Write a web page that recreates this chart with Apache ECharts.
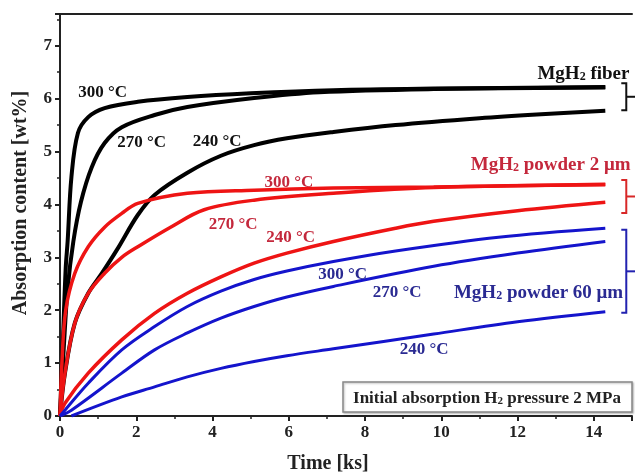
<!DOCTYPE html>
<html>
<head>
<meta charset="utf-8">
<script src="https://cdn.jsdelivr.net/npm/echarts@6/dist/echarts.min.js"></script>
<style>
html,body{margin:0;padding:0;background:#fff}
#chart{width:635px;height:475px}
</style>
</head>
<body>
<div id="chart"></div>
<script>
// time in ks, absorption in wt%
var fiber300T = [0, 0.08, 0.15, 0.2, 0.3, 0.47, 0.74, 1.17, 2.04, 3.34, 5, 7.17, 9.8, 14.3];
var fiber300V = [0, 1.5, 2.8, 3.3, 4.52, 5.35, 5.65, 5.82, 5.94, 6.03, 6.1, 6.16, 6.19, 6.22];
var fiber270T = [0, 0.1, 0.2, 0.35, 0.55, 0.83, 1.17, 1.62, 2.48, 3.34, 5.09, 6.8, 9.8, 14.3];
var fiber270V = [0, 1.3, 2.4, 3.3, 4.05, 4.7, 5.16, 5.46, 5.69, 5.84, 6.01, 6.12, 6.18, 6.21];
var fiber240T = [0, 0.13, 0.39, 0.74, 1.1, 1.5, 2.04, 2.48, 3.34, 4.22, 5.09, 5.95, 7.17, 8.8, 11, 12.5, 14.3];
var fiber240V = [0, 0.81, 1.76, 2.32, 2.7, 3.15, 3.8, 4.18, 4.6, 4.92, 5.12, 5.25, 5.37, 5.5, 5.63, 5.7, 5.77];

var p2um300T = [0, 0.05, 0.15, 0.39, 0.74, 1.17, 1.62, 2.04, 3.34, 5.09, 7.17, 9.8, 14.3];
var p2um300V = [0, 1.0, 2.0, 2.7, 3.2, 3.57, 3.83, 4.02, 4.21, 4.27, 4.31, 4.33, 4.38];
var p2um270T = [0, 0.13, 0.39, 0.74, 1.17, 1.62, 2.04, 2.9, 3.78, 5.09, 7.17, 9.8, 14.3];
var p2um270V = [0, 0.81, 1.76, 2.32, 2.7, 3.0, 3.2, 3.57, 3.9, 4.08, 4.21, 4.32, 4.37];
var p2um240T = [0, 0.13, 0.74, 1.62, 2.48, 3.34, 4.22, 5.09, 5.95, 7.17, 8.8, 9.8, 12, 14.3];
var p2um240V = [0, 0.24, 0.81, 1.44, 1.94, 2.32, 2.63, 2.89, 3.08, 3.3, 3.55, 3.68, 3.88, 4.04];

var p60um300T = [0, 0.13, 0.74, 1.62, 2.48, 3.34, 4.22, 5.09, 5.95, 7.17, 8.8, 11.5, 14.3];
var p60um300V = [0, 0.11, 0.62, 1.25, 1.69, 2.07, 2.36, 2.58, 2.74, 2.92, 3.12, 3.38, 3.55];
var p60um270T = [0, 0.3, 1.62, 2.48, 3.34, 4.22, 5.09, 5.95, 7.17, 9.8, 12, 14.3];
var p60um270V = [0, 0.11, 0.81, 1.25, 1.57, 1.85, 2.07, 2.25, 2.45, 2.83, 3.08, 3.3];
var p60um240T = [0.3, 1.62, 2.48, 3.34, 4.22, 5.09, 5.95, 7.17, 9.8, 12, 14.3];
var p60um240V = [0, 0.36, 0.55, 0.74, 0.9, 1.03, 1.14, 1.27, 1.55, 1.78, 1.97];

var xTicks = [0, 2, 4, 6, 8, 10, 12, 14];
var yTicks = [0, 1, 2, 3, 4, 5, 6, 7];

// annotation labels: [text, t, v, colour]
var tempLabels = [
    ['300 °C', 1.12, 6.12, '#111'],
    ['270 °C', 2.14, 5.16, '#111'],
    ['240 °C', 4.12, 5.18, '#111'],
    ['300 °C', 6.0, 4.42, '#c4283c'],
    ['270 °C', 4.54, 3.61, '#c4283c'],
    ['240 °C', 6.05, 3.38, '#c4283c'],
    ['300 °C', 7.41, 2.67, '#2a2a92'],
    ['270 °C', 8.84, 2.33, '#2a2a92'],
    ['240 °C', 9.55, 1.25, '#2a2a92']
];
var groupLabels = [
    ['fiber', 12.52, 6.5, '#111'],
    ['powder 2 μm', 10.77, 4.78, '#c4283c'],
    ['powder 60 μm', 10.33, 2.36, '#2a2a92']
];
// brackets: [t, vTop, vBottom, colour]
var brackets = [
    [14.85, 6.29, 5.78, '#111'],
    [14.85, 4.46, 3.84, '#d82828'],
    [14.85, 3.52, 1.95, '#2222b0']
];

function pairs(ts, vs) {
    var out = [];
    for (var i = 0; i < ts.length; i++) out.push([ts[i], vs[i]]);
    return out;
}

var serif = '"Liberation Serif", "Times New Roman", serif';
var chart = echarts.init(document.getElementById('chart'));

function curve(ts, vs, color, width) {
    return {
        type: 'line',
        data: pairs(ts, vs),
        smooth: 0.35,
        symbol: 'none',
        lineStyle: {color: color, width: width},
        silent: true
    };
}

var option = {
    animation: false,
    backgroundColor: '#fff',
    grid: {left: 60, right: 0, top: 14, bottom: 59},
    xAxis: [{
        type: 'value', min: 0, max: 15, interval: 2,
        axisLine: {lineStyle: {color: '#222', width: 2}},
        axisTick: {length: 5, lineStyle: {color: '#222', width: 2}},
        axisLabel: {
            color: '#222', fontFamily: serif, fontWeight: 'bold', fontSize: 17, margin: 8,
            formatter: function (v) { return xTicks.indexOf(v) >= 0 ? String(v) : ''; }
        },
        splitLine: {show: false}
    }, {
        type: 'value', min: 0, max: 15, interval: 1, position: 'bottom',
        axisLine: {show: false},
        axisTick: {length: 3, lineStyle: {color: '#222', width: 1.5}},
        axisLabel: {show: false},
        splitLine: {show: false}
    }, {
        type: 'value', min: 0, max: 15, position: 'top',
        axisLine: {lineStyle: {color: '#222', width: 2}},
        axisTick: {show: false},
        axisLabel: {show: false},
        splitLine: {show: false}
    }],
    yAxis: [{
        type: 'value', min: 0, max: 7.6, interval: 1,
        axisLine: {show: true, lineStyle: {color: '#222', width: 2}},
        axisTick: {show: true, length: 5, lineStyle: {color: '#222', width: 2}},
        axisLabel: {
            color: '#222', fontFamily: serif, fontWeight: 'bold', fontSize: 17, margin: 8,
            formatter: function (v) { return yTicks.indexOf(v) >= 0 ? String(v) : ''; }
        },
        splitLine: {show: false}
    }, {
        type: 'value', min: 0, max: 7.6, interval: 0.5, position: 'left',
        axisLine: {show: false},
        axisTick: {show: true, length: 3, lineStyle: {color: '#222', width: 1.5}},
        axisLabel: {show: false},
        splitLine: {show: false}
    }],
    series: [
        curve(fiber240T, fiber240V, '#000', 4),
        curve(fiber270T, fiber270V, '#000', 4),
        curve(fiber300T, fiber300V, '#000', 4),
        curve(p2um240T, p2um240V, '#ee1414', 3.5),
        curve(p2um270T, p2um270V, '#ee1414', 3.5),
        curve(p2um300T, p2um300V, '#ee1414', 3.5),
        curve(p60um240T, p60um240V, '#1414cc', 3),
        curve(p60um270T, p60um270V, '#1414cc', 3),
        curve(p60um300T, p60um300V, '#1414cc', 3)
    ]
};
chart.setOption(option);

// annotations placed from data coordinates
var finder = {xAxisIndex: 0, yAxisIndex: 0};
var g = [];
tempLabels.forEach(function (l) {
    var p = chart.convertToPixel(finder, [l[1], l[2]]);
    g.push({
        type: 'text', x: p[0], y: p[1], z: 100,
        style: {text: l[0], fill: l[3], font: 'bold 17px ' + serif, textAlign: 'center', textVerticalAlign: 'middle'}
    });
});
groupLabels.forEach(function (l) {
    var p = chart.convertToPixel(finder, [l[1], l[2]]);
    g.push({
        type: 'text', x: p[0], y: p[1], z: 100,
        style: {
            text: '{b|MgH}{s|2}{b| ' + l[0] + '}',
            fill: l[3], textAlign: 'left', textVerticalAlign: 'middle',
            rich: {
                b: {font: 'bold 19px ' + serif, fill: l[3], lineHeight: 22, verticalAlign: 'bottom'},
                s: {font: 'bold 12px ' + serif, fill: l[3], lineHeight: 16, verticalAlign: 'bottom'}
            }
        }
    });
});
brackets.forEach(function (b) {
    var top = chart.convertToPixel(finder, [b[0], b[1]]);
    var bot = chart.convertToPixel(finder, [b[0], b[2]]);
    var mid = (top[1] + bot[1]) / 2;
    g.push({
        type: 'polyline', z: 100,
        shape: {points: [[top[0] - 5, top[1]], [top[0], top[1]], [top[0], bot[1]], [top[0] - 5, bot[1]]]},
        style: {stroke: b[3], lineWidth: 2, fill: null}
    });
    g.push({
        type: 'line', z: 100,
        shape: {x1: top[0], y1: mid, x2: top[0] + 9, y2: mid},
        style: {stroke: b[3], lineWidth: 2}
    });
});
// pressure note box
g.push({
    type: 'rect', z: 100,
    shape: {x: 343, y: 382, width: 289, height: 30},
    style: {fill: '#fff', stroke: '#888', lineWidth: 1.5, shadowColor: 'rgba(0,0,0,0.25)', shadowBlur: 2, shadowOffsetX: 1, shadowOffsetY: 1}
});
g.push({
    type: 'text', x: 487, y: 397, z: 101,
    style: {
        text: '{b|Initial absorption H}{s|2}{b| pressure 2 MPa}',
        textAlign: 'center', textVerticalAlign: 'middle',
        rich: {
            b: {font: 'bold 17px ' + serif, fill: '#222', lineHeight: 20, verticalAlign: 'bottom'},
            s: {font: 'bold 11px ' + serif, fill: '#222', lineHeight: 15, verticalAlign: 'bottom'}
        }
    }
});
// axis titles
g.push({
    type: 'text', x: 328, y: 464, z: 100,
    style: {text: 'Time [ks]', fill: '#222', font: 'bold 20px ' + serif, textAlign: 'center', textVerticalAlign: 'middle'}
});
g.push({
    type: 'text', x: 21, y: 203, z: 100, rotation: Math.PI / 2,
    style: {text: 'Absorption content [wt%]', fill: '#222', font: 'bold 20px ' + serif, textAlign: 'center', textVerticalAlign: 'middle'}
});
chart.setOption({graphic: g});
</script>
</body>
</html>
